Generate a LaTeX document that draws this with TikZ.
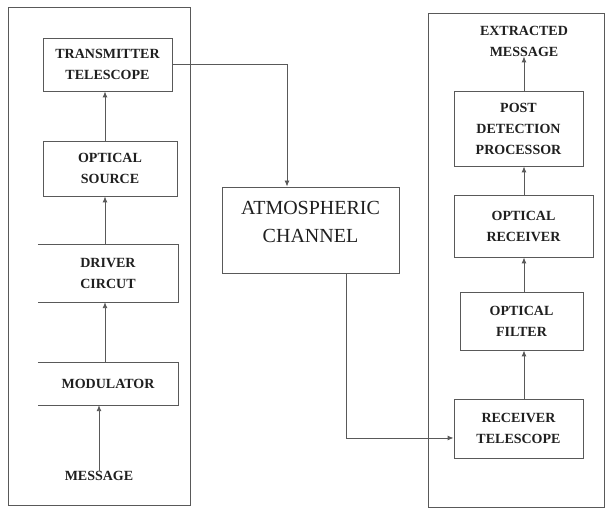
\documentclass[tikz,border=0pt]{standalone}
\usepackage{fontspec}
\setmainfont{Liberation Serif}
\usetikzlibrary{arrows.meta}
\definecolor{ln}{gray}{0.35}
\definecolor{tx}{gray}{0.12}
\tikzset{
  blk/.style={draw=ln, line width=0.9pt, align=center, inner sep=0pt,
    font=\fontsize{14}{21}\selectfont\bfseries, text=tx},
  openblk/.style={align=center, inner sep=0pt,
    font=\fontsize{14}{21}\selectfont\bfseries, text=tx},
  lbl/.style={align=center, inner sep=0pt,
    font=\fontsize{14}{21}\selectfont\bfseries, text=tx},
  bigblk/.style={draw=ln, line width=0.9pt, inner sep=0pt},
  bigtxt/.style={align=center, inner sep=0pt,
    font=\fontsize{20}{28}\selectfont, text=tx},
  panel/.style={draw=ln, line width=0.9pt},
  arr/.style={draw=ln, line width=0.9pt, -{Latex[length=6pt,width=5pt]}},
  edge/.style={draw=ln, line width=0.9pt}
}
\begin{document}
\begin{tikzpicture}[x=1pt,y=-1pt]
\useasboundingbox (0,0) rectangle (606,510);
% panels
\draw[panel] (8,7) rectangle (190,505);
\draw[panel] (428,13) rectangle (604,507);
% left column
\node[blk, minimum width=129pt, minimum height=53pt] (tt) at (107.5,64.5) {TRANSMITTER\\TELESCOPE};
\node[blk, minimum width=134pt, minimum height=55pt] (os) at (110,168.5) {OPTICAL\\SOURCE};
\node[openblk, minimum width=140pt, minimum height=57pt] (dc) at (108,273.5) {DRIVER\\CIRCUT};
\draw[edge] (dc.north west) -- (dc.north east) -- (dc.south east) -- (dc.south west);
\node[openblk, minimum width=140pt, minimum height=42pt] (mod) at (108,384) {MODULATOR};
\draw[edge] (mod.north west) -- (mod.north east) -- (mod.south east) -- (mod.south west);
\node[lbl] (msg) at (99,476) {MESSAGE};
% middle
\node[bigblk, minimum width=177pt, minimum height=86pt] (atm) at (310.5,230) {};
\node[bigtxt] (atmtxt) at (310.5,222) {ATMOSPHERIC\\CHANNEL};
% right column
\node[blk, minimum width=129pt, minimum height=59pt] (rt) at (518.5,428.5) {RECEIVER\\TELESCOPE};
\node[blk, minimum width=123pt, minimum height=58pt] (of) at (521.5,321) {OPTICAL\\FILTER};
\node[blk, minimum width=139pt, minimum height=62pt] (or) at (523.5,226) {OPTICAL\\RECEIVER};
\node[blk, minimum width=129pt, minimum height=75pt] (pdp) at (518.5,128.5) {POST\\DETECTION\\PROCESSOR};
\node[lbl] (em) at (524,41) {EXTRACTED\\MESSAGE};
\coordinate (lc) at (105,0);
\coordinate (rc) at (524,0);
\coordinate (atin) at (287,0);
\coordinate (bend) at (346,438);
% connectors left
\draw[arr] (msg.north) -- (msg.north |- mod.south);
\draw[arr] (mod.north -| lc) -- (dc.south -| lc);
\draw[arr] (dc.north -| lc) -- (os.south -| lc);
\draw[arr] (os.north -| lc) -- (tt.south -| lc);
% to channel
\draw[arr] (tt.east) -| (atin |- atm.north);
\draw[arr] (bend |- atm.south) -- (bend) -- (bend -| rt.west);
% connectors right
\draw[arr] (rt.north -| rc) -- (of.south -| rc);
\draw[arr] (of.north -| rc) -- (or.south -| rc);
\draw[arr] (or.north -| rc) -- (pdp.south -| rc);
\draw[arr] (pdp.north -| rc) -- (em.south -| rc);
\end{tikzpicture}
\end{document}
